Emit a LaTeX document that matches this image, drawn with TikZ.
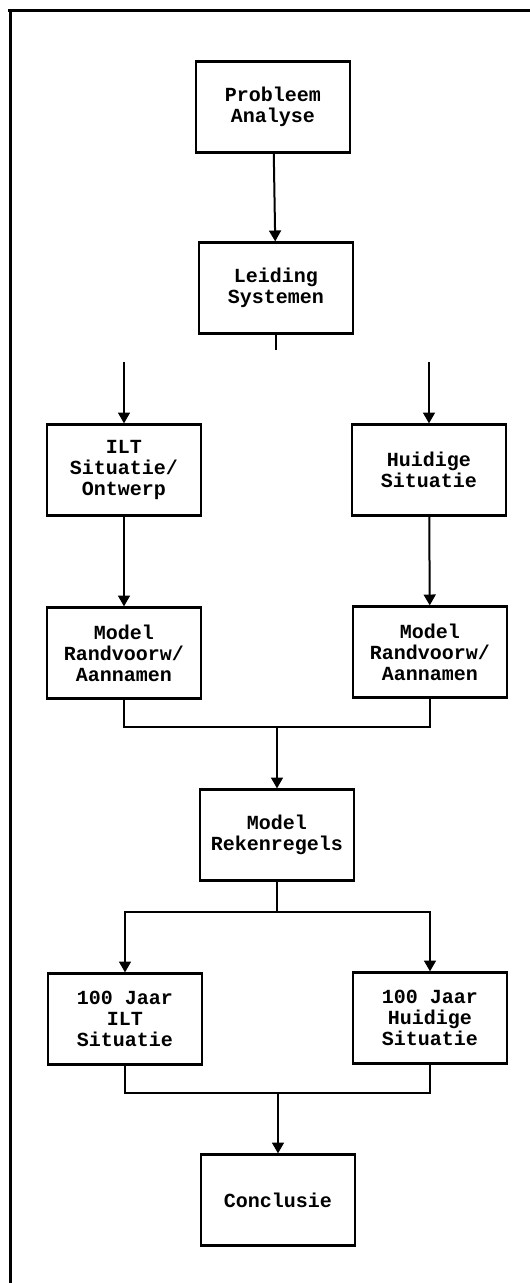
\documentclass[tikz,border=0pt]{standalone}
\usepackage{fontspec}
\setmainfont{Liberation Mono}
\usepackage{tikz}
\usetikzlibrary{arrows}
\usetikzlibrary{positioning}
\tikzstyle{stap}=[rectangle,draw=black,line width=2.4pt,align=center,inner sep=0mm,minimum width=154pt,minimum height=91pt,font=\bfseries\fontsize{20}{21}\selectfont]
\tikzstyle{arrow}=[->,>=triangle 60]
\tikzstyle{lijn}=[line width=2pt]
\tikzset{every picture/.style={
    line width=1
  }
}
\begin{document}
\begin{tikzpicture}[x=1pt,y=-1pt]
          \useasboundingbox (0,0) rectangle (530,1283);
          \draw[line width=3pt] (8,10) -- (530,10);
          \draw[line width=3pt] (10,10) -- (10,1283);
          \node[stap] at (273,107) (prob) {Probleem\\Analyse};
          \node[stap] at (276,288) (leid) {Leiding\\Systemen};
          \node[stap] at (124,470) (ilt) {ILT\\Situatie/\\Ontwerp};
          \node[stap] at (429,470) (huid) {Huidige\\Situatie};
          \node[stap] at (124,653) (mrl) {Model\\Randvoorw/\\Aannamen};
          \node[stap] at (430,652) (mrr) {Model\\Randvoorw/\\Aannamen};
          \node[stap] at (277,835) (reken) {Model\\Rekenregels};
          \node[stap] at (125,1019) (jaarl) {100 Jaar\\ILT\\Situatie};
          \node[stap] at (430,1018) (jaarr) {100 Jaar\\Huidige\\Situatie};
          \node[stap] at (278,1200) (concl) {Conclusie};
          \coordinate (sA) at (276,350);
          \coordinate (bL) at (124,362);
          \coordinate (bR) at (429,362);
          \coordinate (jA) at (277,727);
          \coordinate (jB) at (277,912);
          \coordinate (jC) at (278,1093);
          \draw[lijn,arrow] (prob)--(leid);
          \draw[lijn] (leid)--(sA);
          \draw[lijn,arrow] (bL)--(ilt);
          \draw[lijn,arrow] (bR)--(huid);
          \draw[lijn,arrow] (ilt)--(mrl);
          \draw[lijn,arrow] (huid)--(mrr);
          \draw[lijn] (mrl) |- (jA) -| (mrr);
          \draw[lijn,arrow] (jA)--(reken);
          \draw[lijn] (reken)--(jB);
          \draw[lijn,arrow] (jB) -| (jaarl);
          \draw[lijn,arrow] (jB) -| (jaarr);
          \draw[lijn] (jaarl) |- (jC) -| (jaarr);
          \draw[lijn,arrow] (jC)--(concl);
        \end{tikzpicture}
\end{document}
